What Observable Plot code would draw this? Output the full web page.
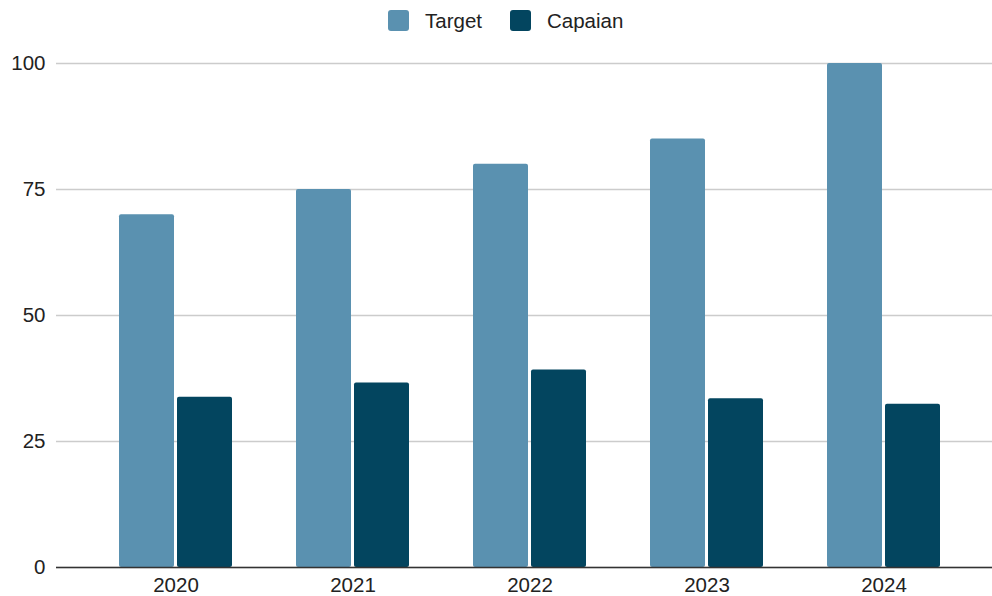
<!DOCTYPE html>
<html>
<head>
<meta charset="utf-8">
<script src="https://cdn.jsdelivr.net/npm/d3@7"></script>
<script src="https://cdn.jsdelivr.net/npm/@observablehq/plot@0.6"></script>
<style>
  body { margin: 0; background: #fff; font-family: Arial, "Liberation Sans", sans-serif; }
  #wrap { position: relative; width: 992px; height: 596px; }
  #legend { position: absolute; left: 388px; top: 0; height: 41px; display: flex; align-items: center; font-size: 20.5px; color: #222; }
  .item { display: flex; align-items: center; margin-right: 28px; }
  .sw { width: 21px; height: 21px; border-radius: 3px; margin-right: 16px; }
  #chart { position: absolute; left: 0; top: 41px; }
</style>
</head>
<body>
<div id="wrap">
  <div id="legend"></div>
  <div id="chart"></div>
</div>
<script>
const years = ["2020", "2021", "2022", "2023", "2024"];
const target = [70, 75, 80, 85, 100];
const capaian = [33.8, 36.6, 39.2, 33.5, 32.4];
const seriesNames = ["Target", "Capaian"];
const seriesColors = ["#5a91b0", "#03455f"];
const yTicks = [0, 25, 50, 75, 100];

const rows = years.flatMap((year, i) => [
  {year, series: seriesNames[0], value: target[i]},
  {year, series: seriesNames[1], value: capaian[i]}
]);

// legend
const legend = document.getElementById("legend");
seriesNames.forEach((name, i) => {
  const item = document.createElement("div");
  item.className = "item";
  const sw = document.createElement("div");
  sw.className = "sw";
  sw.style.background = seriesColors[i];
  const label = document.createElement("span");
  label.textContent = name;
  item.appendChild(sw);
  item.appendChild(label);
  legend.appendChild(item);
});

const chart = Plot.plot({
  width: 992,
  height: 556,
  marginLeft: 56,
  marginRight: 0,
  marginTop: 22,
  marginBottom: 30,
  style: {fontSize: "20.5px", fontFamily: "Arial, 'Liberation Sans', sans-serif", color: "#222", background: "#fff"},
  x: {domain: years, range: [86, 973], paddingInner: 0.363, paddingOuter: 0.1815, label: null},
  y: {domain: [0, 100], label: null},
  color: {domain: seriesNames, range: seriesColors},
  marks: [
    Plot.gridY(yTicks, {stroke: "#cccccc", strokeOpacity: 1, strokeWidth: 1.3}),
    Plot.barY(rows.filter(d => d.series === seriesNames[0]), {x: "year", y: "value", fill: "series", insetRight: 58, rx: 2}),
    Plot.barY(rows.filter(d => d.series === seriesNames[1]), {x: "year", y: "value", fill: "series", insetLeft: 58, rx: 2}),
    Plot.ruleY([0], {stroke: "#333", strokeWidth: 1.3}),
    Plot.axisY(yTicks, {tickSize: 0, tickPadding: 11, label: null, fill: "#222"}),
    Plot.axisX({tickSize: 0, tickPadding: 10, label: null, fill: "#222"})
  ]
});
document.getElementById("chart").appendChild(chart);
</script>
</body>
</html>
